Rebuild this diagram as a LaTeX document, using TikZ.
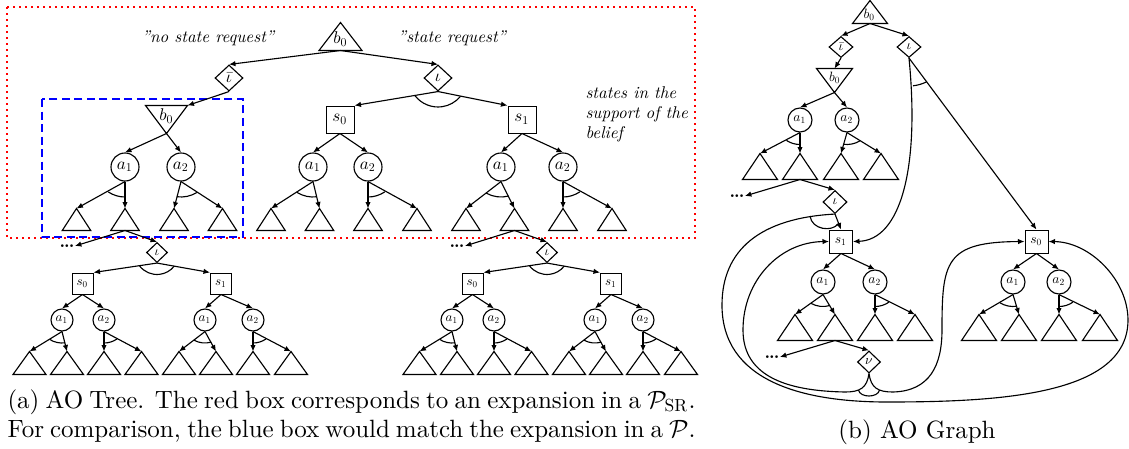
\documentclass[tikz,border=0pt]{standalone}
\usepackage{fontspec}
\setmainfont{lmroman10-regular.otf}[ItalicFont=lmroman10-italic.otf,BoldFont=lmroman10-bold.otf,BoldItalicFont=lmroman10-bolditalic.otf]
\DeclareFontShape{OML}{cmm}{m}{it}{<->cmmi10}{}
\DeclareFontShape{OMS}{cmsy}{m}{n}{<->cmsy10}{}
\DeclareFontShape{OT1}{cmr}{m}{n}{<->cmr10}{}
\usetikzlibrary{shapes.geometric,arrows.meta,calc}
\newcommand\fA{\fontsize{6.8}{8}\selectfont}
\newcommand\fB{\fontsize{5.2}{6}\selectfont}
\newcommand\fC{\fontsize{5.4}{6.5}\selectfont}
\tikzset{
 base/.style={line width=0.45pt},
 edge/.style={base,-{Latex[length=2.6pt,width=2.2pt]}},
 dnode/.style={diamond,draw,base,inner sep=0pt,aspect=1},
 snode/.style={rectangle,draw,line width=0.4pt,inner sep=0pt},
 cnode/.style={circle,draw,base,inner sep=0pt},
 tnode/.style={rectangle,inner sep=0pt},
 tri/.style={base},
 andarcst/.style={base},
 dots/.style={inner sep=0pt,font=\fontsize{7}{7}\selectfont\bfseries},
}
\newcommand\uptri[4]{\node[tnode,minimum width=#3,minimum height=#4] (#1) at (#2) {};
  \draw[tri] (#1.south west) -- (#1.north) -- (#1.south east) -- cycle;}
\newcommand\dntri[4]{\node[tnode,minimum width=#3,minimum height=#4] (#1) at (#2) {};
  \draw[tri] (#1.north west) -- (#1.south) -- (#1.north east) -- cycle;}
\newcommand\andarc[6]{\draw[andarcst] let \p1=($(#2)!#5!(#3)-(#1.center)$), \p2=($(#2)!#5!(#4)-(#1.center)$), \n1={atan2(\y1,\x1)}, \n2={atan2(\y2,\x2)} in ($(#1.center)+(\n1:#6)$) arc[start angle=\n1,end angle=\n2,radius=#6];}
\newcommand\dottext{.\kern-.4pt.\kern-.4pt.}
\newcommand\lowtree[3]{%
 \node[dots] (#1d) at ({67+#2},246) {\dottext};
 \node[dnode,minimum width=8.4pt,minimum height=8pt] (#1i) at ({157+#2},252.5) {\fB$\iota$};
 \draw[edge] (#3.south) -- (#1d.east);
 \draw[edge] (#3.south) -- (#1i.north);
 \node[snode,minimum size=8.4pt] (#1s0) at ({82.5+#2},283.5) {\fB$s_0$};
 \node[snode,minimum size=8.4pt] (#1s1) at ({221+#2},283.5) {\fB$s_1$};
 \draw[edge] (#1i.south) -- (#1s0.north east);
 \draw[edge] (#1i.south) -- (#1s1.north west);
 \andarc{#1i}{#1i.south}{#1s0.north east}{#1s1.north west}{7.2pt}{8.8pt}
 \node[cnode,minimum size=8.8pt] (#1a1) at ({62+#2},320) {\fB$a_1$};
 \node[cnode,minimum size=8.8pt] (#1a2) at ({104+#2},320) {\fB$a_2$};
 \node[cnode,minimum size=8.8pt] (#1b1) at ({205+#2},320) {\fB$a_1$};
 \node[cnode,minimum size=8.8pt] (#1b2) at ({253+#2},320) {\fB$a_2$};
 \draw[edge] (#1s0.south) -- (#1a1.north);
 \draw[edge] (#1s0.south) -- (#1a2.north);
 \draw[edge] (#1s1.south) -- (#1b1.north);
 \draw[edge] (#1s1.south) -- (#1b2.north);
 \foreach \va/\vx in {1/29.5,2/67,3/104,4/141.5,5/179,6/216,7/253,8/291}
   {\uptri{#1L\va}{{\vx+#2},363}{12.8pt}{8.8pt}}
 \foreach \va/\vb/\vc in {a1/1/2,a2/3/4,b1/5/6,b2/7/8}
   {\draw[edge] (#1\va.south) -- (#1L\vb.north);
    \draw[edge] (#1\va.south) -- (#1L\vc.north);
    \andarc{#1\va}{#1\va.south}{#1L\vb.north}{#1L\vc.north}{5.6pt}{9.2pt}}
}
\begin{document}
\begin{tikzpicture}[x=0.4pt,y=-0.4pt]
\useasboundingbox (0,0) rectangle (1129,448);
% ---------------- (a) boxes and texts
\draw[red,line width=0.7pt,dash pattern=on 0.7pt off 1.7pt] (7,7) rectangle (695,238);
\draw[blue,line width=0.5pt,dash pattern=on 3.2pt off 1.8pt] (42,99) rectangle (243,237);
\node[font=\fA\itshape] (tno) at (208,38) {''no state request''};
\node[font=\fA\itshape] (tsr) at (452,38) {''state request''};
\node[font=\fA\itshape,anchor=west,align=left,inner sep=0pt] (tst) at (585,114) {states in the\\support of the\\belief};
% ---------------- (a) upper tree
\uptri{R}{340.5,36.5}{16.8pt}{10.8pt}
\node (Rt) at (340.5,39) {\fA$b_0$};
\node[dnode,minimum width=11.2pt,minimum height=10.4pt] (ib) at (229,78) {\fA$\bar\iota$};
\node[dnode,minimum width=11.2pt,minimum height=10.4pt] (io) at (438,78) {\fA$\iota$};
\dntri{B}{166.5,119.5}{16.4pt}{10.8pt}
\node (Bt) at (166.5,116) {\fA$b_0$};
\node[snode,minimum width=11.2pt,minimum height=10.8pt] (s0) at (340,119.5) {\fA$s_0$};
\node[snode,minimum width=11.2pt,minimum height=10.8pt] (s1) at (522,119.5) {\fA$s_1$};
\draw[edge] (R.south) -- (ib.north);
\draw[edge] (R.south) -- (io.north);
\draw[edge] (ib.south) -- (B.north east);
\draw[edge] (io.south) -- (s0.north east);
\draw[edge] (io.south) -- (s1.north west);
\andarc{io}{io.south}{s0.north east}{s1.north west}{9pt}{11.6pt}
\node[cnode,minimum size=11.2pt] (ba1) at (125,167) {\fA$a_1$};
\node[cnode,minimum size=11.2pt] (ba2) at (181,167) {\fA$a_2$};
\node[cnode,minimum size=11.2pt] (sa1) at (313,167) {\fA$a_1$};
\node[cnode,minimum size=11.2pt] (sa2) at (368,167) {\fA$a_2$};
\node[cnode,minimum size=11.2pt] (ta1) at (501,167) {\fA$a_1$};
\node[cnode,minimum size=11.2pt] (ta2) at (563,167) {\fA$a_2$};
\draw[edge] (B.south) -- (ba1.north);
\draw[edge] (B.south) -- (ba2.north);
\draw[edge] (s0.south) -- (sa1.north);
\draw[edge] (s0.south) -- (sa2.north);
\draw[edge] (s1.south) -- (ta1.north);
\draw[edge] (s1.south) -- (ta2.north);
\foreach \va/\vx in {1/76.5,2/125,3/174,4/222.5,5/271,6/319.5,7/368,8/417,9/466,10/514.5,11/563,12/612}
  {\uptri{L\va}{\vx,219.5}{11pt}{8.4pt}}
\foreach \va/\vb/\vc in {ba1/1/2,ba2/3/4,sa1/5/6,sa2/7/8,ta1/9/10,ta2/11/12}
  {\draw[edge] (\va.south) -- (L\vb.north);
   \draw[edge] (\va.south) -- (L\vc.north);
   \andarc{\va}{\va.south}{L\vb.north}{L\vc.north}{7.2pt}{12pt}}
% ---------------- (a) lower trees
\lowtree{p}{0}{L2}
\lowtree{q}{390}{L10}
% ---------------- captions
\node[anchor=base west,inner sep=0pt] (capa1) at (7,408) {\makebox[275.2pt][s]{(a) AO Tree. The red box corresponds to an expansion in a $\mathcal{P}_{\mathrm{SR}}$.}};
\node[anchor=base west,inner sep=0pt] (capa2) at (7,437) {\makebox[275.2pt][s]{For comparison, the blue box would match the expansion in a $\mathcal{P}$.}};
\node[anchor=base,inner sep=0pt] (capb) at (917,438) {(b) AO Graph};
% ---------------- (b) AO graph
\uptri{gR}{870,12}{13.6pt}{8.8pt}
\node (gRt) at (869.5,14.5) {\fC$b_0$};
\node[dnode,minimum width=9.6pt,minimum height=8.4pt] (gib) at (841,47) {\fC$\bar\iota$};
\node[dnode,minimum width=9.6pt,minimum height=8.4pt] (gi) at (909,47) {\fC$\iota$};
\dntri{gB}{834.5,80.5}{14pt}{9.2pt}
\node (gBt) at (835,77.5) {\fC$b_0$};
\node[cnode,minimum size=9.6pt] (ga1) at (800,120) {\fC$a_1$};
\node[cnode,minimum size=9.6pt] (ga2) at (847,120) {\fC$a_2$};
\foreach \va/\vx in {1/760,2/800,3/841,4/881}
  {\uptri{gL\va}{\vx,166.5}{13.6pt}{10pt}}
\node[dots] (gd1) at (737,196) {\dottext};
\node[dnode,minimum width=9.6pt,minimum height=9.2pt] (gi2) at (835,202) {\fC$\iota$};
\node[snode,minimum size=9.2pt] (gs1) at (841,241.5) {\fC$s_1$};
\node[snode,minimum size=9.2pt] (gs0) at (1036.5,241.5) {\fC$s_0$};
\node[cnode,minimum size=9.6pt] (gs1a1) at (823,282) {\fC$a_1$};
\node[cnode,minimum size=9.6pt] (gs1a2) at (875,282) {\fC$a_2$};
\node[cnode,minimum size=9.6pt] (gs0a1) at (1013,282) {\fC$a_1$};
\node[cnode,minimum size=9.6pt] (gs0a2) at (1059,282) {\fC$a_2$};
\foreach \va/\vx in {1/795,2/835,3/875,4/915,5/979,6/1019,7/1059,8/1100}
  {\uptri{gM\va}{\vx,327.5}{13.6pt}{10pt}}
\node[dots] (gd2) at (772,357) {\dottext};
\node[dnode,minimum width=9.2pt,minimum height=8.8pt] (gnu) at (869,362) {\fC$\nu$};
\draw[edge] (gR.south) -- (gib.north);
\draw[edge] (gR.south) -- (gi.north);
\draw[edge] (gib.south) -- (gB.north);
\draw[edge] (gB.south) -- (ga1.north);
\draw[edge] (gB.south) -- (ga2.north);
\foreach \va/\vb/\vc in {ga1/1/2,ga2/3/4}
  {\draw[edge] (\va.south) -- (gL\vb.north);
   \draw[edge] (\va.south) -- (gL\vc.north);
   \andarc{\va}{\va.south}{gL\vb.north}{gL\vc.north}{5.8pt}{9.8pt}}
\draw[edge] (gL2.south) -- (gd1.east);
\draw[edge] (gL2.south) -- (gi2.north);
\draw[edge] (gi2.south) -- (gs1.north);
\draw[edge] (gi.south) -- (gs0.north);
\draw[edge] (gi.south) .. controls (920,170) and (900,240) .. (gs1.east);
\draw[edge] (gi2.south) .. controls (760,218) and (722,250) .. (722,305)
   .. controls (722,380) and (800,402) .. (887,402)
   .. controls (1000,402) and (1128,395) .. (1128,320)
   .. controls (1128,280) and (1090,242) .. (gs0.east);
\draw[edge] (gnu.south) .. controls (867,388) and (860,392) .. (845,392)
   .. controls (790,391) and (743,378) .. (743,330)
   .. controls (743,280) and (780,242) .. (gs1.west);
\draw[edge] (gnu.south) .. controls (871,388) and (878,392) .. (893,392)
   .. controls (930,391) and (942,365) .. (942,330)
   .. controls (942,262) and (945,242) .. (gs0.west);
\draw[andarcst] ([shift={(-84:15.6pt)}]gi.center) arc[start angle=-84,end angle=-63,radius=15.6pt];
\draw[andarcst] (810,216) .. controls (812,230) and (832,232) .. (838,224);
\draw[andarcst] (858.5,390) .. controls (860,398) and (878,398) .. (879.5,390);
\draw[edge] (gs1.south) -- (gs1a1.north);
\draw[edge] (gs1.south) -- (gs1a2.north);
\draw[edge] (gs0.south) -- (gs0a1.north);
\draw[edge] (gs0.south) -- (gs0a2.north);
\foreach \va/\vb/\vc in {gs1a1/1/2,gs1a2/3/4,gs0a1/5/6,gs0a2/7/8}
  {\draw[edge] (\va.south) -- (gM\vb.north);
   \draw[edge] (\va.south) -- (gM\vc.north);
   \andarc{\va}{\va.south}{gM\vb.north}{gM\vc.north}{5.8pt}{9.8pt}}
\draw[edge] (gM2.south) -- (gd2.east);
\draw[edge] (gM2.south) -- (gnu.north);
\end{tikzpicture}
\end{document}
